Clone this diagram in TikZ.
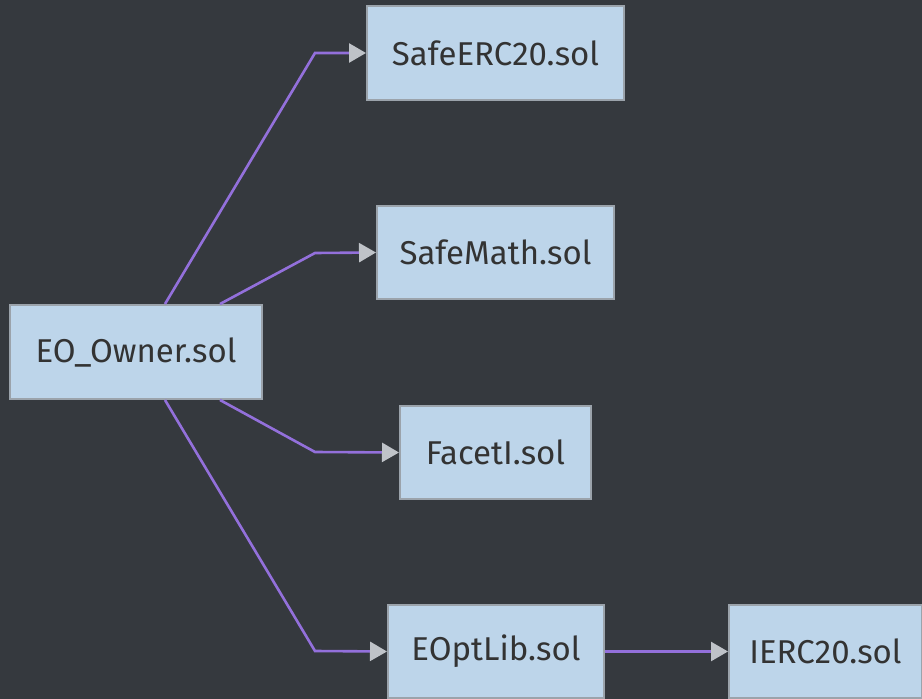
\documentclass[tikz,border=0pt]{standalone}
\usepackage{fontspec}
\setmainfont{Fira Sans}
\usetikzlibrary{arrows.meta}
\definecolor{bg}{HTML}{35393E}
\definecolor{boxfill}{HTML}{BDD5EA}
\definecolor{boxline}{HTML}{9BA3AB}
\definecolor{txt}{HTML}{333333}
\definecolor{edge}{HTML}{9370DB}
\definecolor{tipc}{HTML}{BFC3C8}
\begin{document}
\begin{tikzpicture}[x=1pt,y=-1pt,
  filebox/.style={draw=boxline, line width=2pt, fill=boxfill, text=txt,
    font=\fontsize{33}{37}\selectfont, inner sep=0pt, anchor=center},
  link/.style={draw=edge, line width=2.6pt,
    -{Triangle[length=17pt,width=19pt,color=tipc,fill=tipc]}}]
\fill[bg] (0,0) rectangle (922,699);
\useasboundingbox (0,0) rectangle (922,699);
\node[filebox, minimum width=257pt, minimum height=94pt] (erc) at (495.5,53) {SafeERC20.sol};
\node[filebox, minimum width=237pt, minimum height=93pt] (math) at (495.5,252.5) {SafeMath.sol};
\node[filebox, minimum width=191pt, minimum height=93pt] (facet) at (495.5,452.5) {FacetI.sol};
\node[filebox, minimum width=252pt, minimum height=94pt] (owner) at (136,352) {EO\_Owner.sol};
\node[filebox, minimum width=216pt, minimum height=93pt] (lib) at (496,651.5) {EOptLib.sol};
\node[filebox, minimum width=193pt, minimum height=93pt] (ierc) at (825.5,651.5) {IERC20.sol};
\coordinate (b1) at (315,53);
\coordinate (b2) at (315,253);
\coordinate (b3) at (315,452);
\coordinate (b4) at (315,651);
\draw[link] ([xshift=29pt]owner.north) -- (b1) -- (erc.west);
\draw[link] ([xshift=84pt]owner.north) -- (b2) -- (math.west);
\draw[link] ([xshift=84pt]owner.south) -- (b3) -- (facet.west);
\draw[link] ([xshift=29pt]owner.south) -- (b4) -- (lib.west);
\draw[link] (lib.east) -- (ierc.west);
\end{tikzpicture}
\end{document}
